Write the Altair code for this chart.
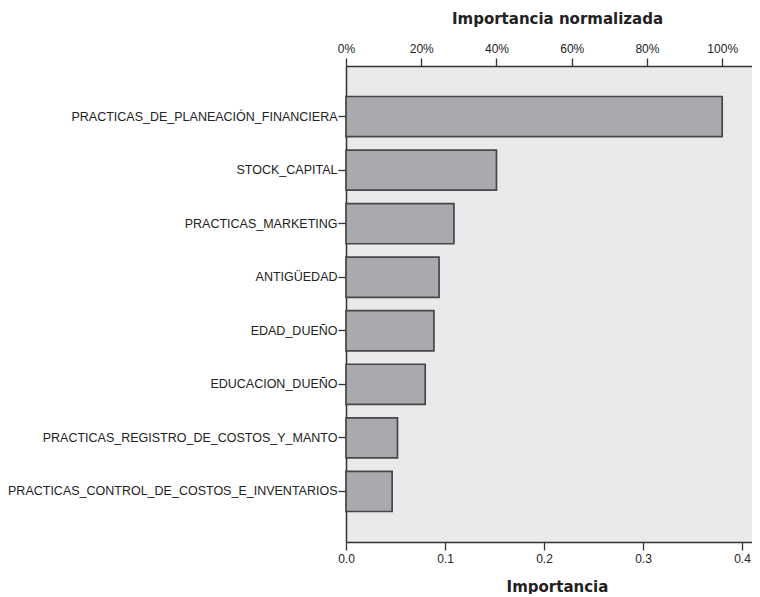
import altair as alt
import pandas as pd

variables = [
    "PRACTICAS_DE_PLANEACIÓN_FINANCIERA",
    "STOCK_CAPITAL",
    "PRACTICAS_MARKETING",
    "ANTIGÜEDAD",
    "EDAD_DUEÑO",
    "EDUCACION_DUEÑO",
    "PRACTICAS_REGISTRO_DE_COSTOS_Y_MANTO",
    "PRACTICAS_CONTROL_DE_COSTOS_E_INVENTARIOS",
]
importance = [0.380, 0.152, 0.109, 0.094, 0.0888, 0.080, 0.052, 0.0466]

bottom_ticks = [0.0, 0.1, 0.2, 0.3, 0.4]
top_ticks = [0.0, 0.2, 0.4, 0.6, 0.8, 1.0]
x_max = 0.4101

max_imp = max(importance)
df = pd.DataFrame({"variable": variables, "importancia": importance})
df["normalizada"] = df["importancia"] / max_imp

W, H = 406, 476
LABEL_FONT = "Liberation Sans"
TITLE_FONT = "DejaVu Sans"

y_enc = alt.Y(
    "variable:N",
    sort=variables,
    scale=alt.Scale(paddingInner=0.25, paddingOuter=0.57),
    axis=alt.Axis(
        title=None,
        labelFont=LABEL_FONT,
        labelFontSize=12.5,
        labelColor="#222222",
        labelPadding=1,
        labelLimit=400,
        tickSize=8,
        tickColor="#333333",
        tickWidth=1.3,
        domainColor="#333333",
        domainWidth=1.5,
        grid=False,
    ),
)

bars = alt.Chart(df).mark_bar(
    fill="#A8AAAD", stroke="#474747", strokeWidth=1.7
).encode(
    x=alt.X(
        "importancia:Q",
        scale=alt.Scale(domain=[0, x_max], nice=False, zero=True),
        axis=alt.Axis(
            orient="bottom",
            values=bottom_ticks,
            format=".1f",
            title="Importancia",
            titleFont=TITLE_FONT,
            titleFontSize=15,
            titleFontWeight="bold",
            titleColor="#222222",
            titleX=211,
            titleY=37,
            titleAlign="center",
            titleBaseline="top",
            labelFont=LABEL_FONT,
            labelFontSize=12,
            labelColor="#222222",
            labelPadding=3,
            labelFlush=False,
            tickSize=8,
            tickColor="#333333",
            tickWidth=1.3,
            domainColor="#333333",
            domainWidth=1.5,
            grid=False,
        ),
    ),
    y=y_enc,
)

top = alt.Chart(df).mark_bar(opacity=0).encode(
    x=alt.X(
        "normalizada:Q",
        scale=alt.Scale(domain=[0, x_max / max_imp], nice=False, zero=True),
        axis=alt.Axis(
            orient="top",
            values=top_ticks,
            format=".0%",
            title="Importancia normalizada",
            titleFont=TITLE_FONT,
            titleFontSize=15,
            titleFontWeight="bold",
            titleColor="#222222",
            titleX=211,
            titleY=-43,
            titleAlign="center",
            titleBaseline="alphabetic",
            labelFont=LABEL_FONT,
            labelFontSize=12,
            labelColor="#222222",
            labelPadding=3,
            labelFlush=False,
            tickSize=8,
            tickColor="#333333",
            tickWidth=1.3,
            domainColor="#333333",
            domainWidth=1.5,
            grid=False,
        ),
    ),
    y=y_enc,
)

chart = (
    alt.layer(bars, top)
    .resolve_scale(x="independent")
    .properties(
        width=W,
        height=H,
        autosize=alt.AutoSizeParams(type="none"),
        padding={"left": 338, "top": 58, "right": 0, "bottom": 52},
        background="white",
    )
    .configure_view(fill="#E9EAEC", stroke="transparent")
)

chart.save("out.html", embed_options={"renderer": "svg", "actions": False})
